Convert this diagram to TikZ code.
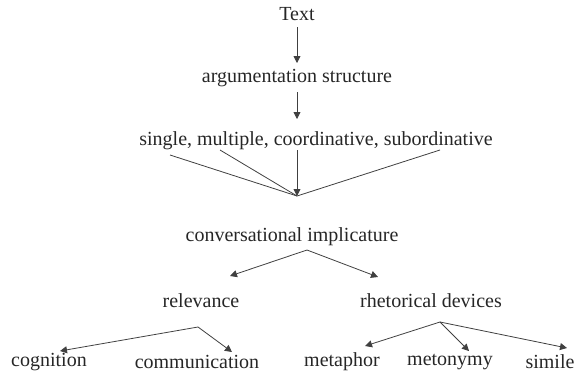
\documentclass[tikz,border=0pt]{standalone}
\usepackage{fontspec}
\setmainfont{Liberation Serif}
\usetikzlibrary{arrows.meta}
\begin{document}
\begin{tikzpicture}[x=1pt,y=-1pt,
  lbl/.style={inner sep=0pt,font=\fontsize{20}{22}\selectfont,text=black!85},
  conn/.style={draw=black!75,line width=0.8pt},
  arr/.style={conn,-{Triangle[length=7pt,width=7pt]}}]
\useasboundingbox (0,0) rectangle (575,372);
\node[lbl] (text) at (297,14) {Text};
\node[lbl] (arg) at (297,78) {argumentation structure};
\node[lbl] (single) at (316,141) {single, multiple, coordinative, subordinative};
\node[lbl] (conv) at (292,237) {conversational implicature};
\node[lbl] (rel) at (201,301) {relevance};
\node[lbl] (rhet) at (431,301) {rhetorical devices};
\node[lbl] (cog) at (49,362) {cognition};
\node[lbl] (comm) at (197,362) {communication};
\node[lbl] (meta) at (342,362) {metaphor};
\node[lbl] (meto) at (450,362) {metonymy};
\node[lbl] (sim) at (550,362) {simile};
% free points
\coordinate (t1) at (297,27);
\coordinate (t2) at (297,63);
\coordinate (a1) at (297,92);
\coordinate (a2) at (297,119);
\coordinate (m) at (297,196);
\coordinate (s1) at (170,155);
\coordinate (s2) at (220,150);
\coordinate (s3) at (297,150);
\coordinate (s4) at (440,150);
\coordinate (c0) at (307,250);
\coordinate (r0) at (198,327);
\coordinate (h0) at (440,322);
\draw[arr] (t1) -- (t2);
\draw[arr] (a1) -- (a2);
\draw[conn] (s1) -- (m);
\draw[conn] (s2) -- (m);
\draw[conn] (s4) -- (m);
\draw[arr] (s3) -- (m);
\draw[arr] (c0) -- (230,276);
\draw[arr] (c0) -- (378,277);
\draw[arr] (r0) -- (60,351);
\draw[arr] (r0) -- (232,352);
\draw[arr] (h0) -- (365,346);
\draw[arr] (h0) -- (469,351);
\draw[arr] (h0) -- (567,348);
\end{tikzpicture}
\end{document}
